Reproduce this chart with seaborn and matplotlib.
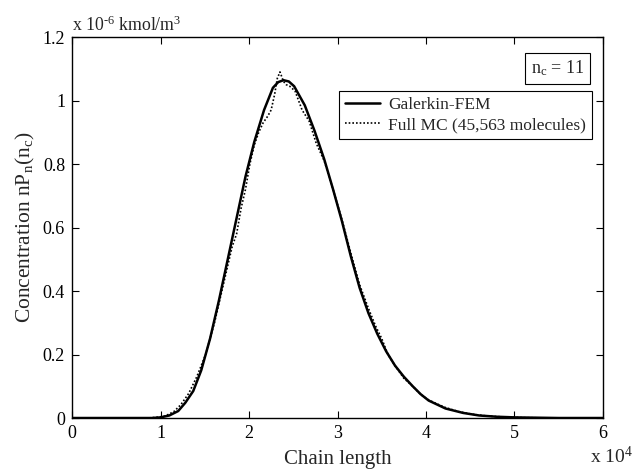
import matplotlib
matplotlib.use("Agg")
import matplotlib.pyplot as plt
import seaborn as sns
import pandas as pd

# ---- data (chain length in units of 1e4, concentration in units of 1e-6 kmol/m^3)
fem_x = [0.0, 0.9, 1.0, 1.1, 1.2, 1.28, 1.37, 1.46, 1.56, 1.66, 1.76, 1.86,
         1.96, 2.06, 2.17, 2.27, 2.33, 2.39, 2.45, 2.51, 2.63, 2.74, 2.85,
         2.95, 3.05, 3.15, 3.25, 3.35, 3.45, 3.55, 3.65, 3.75, 3.85, 3.94,
         4.03, 4.22, 4.42, 4.6, 4.8, 5.0, 5.5, 6.0]
fem_y = [0.0, 0.0, 0.002, 0.008, 0.022, 0.048, 0.085, 0.15, 0.25, 0.37, 0.50,
         0.63, 0.76, 0.87, 0.97, 1.04, 1.058, 1.064, 1.06, 1.045, 0.985, 0.905,
         0.815, 0.72, 0.62, 0.51, 0.41, 0.33, 0.265, 0.21, 0.165, 0.13, 0.10,
         0.075, 0.055, 0.03, 0.016, 0.008, 0.004, 0.002, 0.0, 0.0]

mc_x = [0.0, 0.85, 0.95, 1.05, 1.15, 1.23, 1.32, 1.41, 1.51, 1.61, 1.71, 1.81,
        1.86, 1.91, 1.96, 2.01, 2.06, 2.11, 2.16, 2.21, 2.25, 2.29, 2.32,
        2.35, 2.39, 2.42, 2.46, 2.52, 2.6, 2.68, 2.76, 2.85, 2.95, 3.05,
        3.15, 3.25, 3.35, 3.43, 3.5, 3.57, 3.65, 3.75, 3.85, 3.94, 4.03,
        4.12, 4.22, 4.37, 4.52, 4.7, 4.9, 5.1, 5.5, 6.0]
mc_y = [0.0, 0.0, 0.002, 0.006, 0.02, 0.042, 0.078, 0.13, 0.2, 0.3, 0.42, 0.54,
        0.58, 0.66, 0.72, 0.80, 0.86, 0.90, 0.93, 0.95, 0.97, 1.02, 1.07, 1.09,
        1.06, 1.05, 1.045, 1.03, 0.97, 0.935, 0.865, 0.81, 0.72, 0.625, 0.52,
        0.42, 0.345, 0.29, 0.25, 0.2, 0.165, 0.125, 0.10, 0.074, 0.057, 0.045,
        0.033, 0.02, 0.012, 0.006, 0.003, 0.001, 0.0, 0.0]

x_ticks = [0, 1, 2, 3, 4, 5, 6]
y_ticks = [0, 0.2, 0.4, 0.6, 0.8, 1.0, 1.2]
y_tick_labels = ["0", "0.2", "0.4", "0.6", "0.8", "1", "1.2"]

labels = ["Galerkin-FEM", "Full MC (45,563 molecules)"]

sns.set_theme(style="ticks")
plt.rcParams["font.family"] = ["Liberation Serif", "DejaVu Serif"]
plt.rcParams["mathtext.fontset"] = "custom"
plt.rcParams["mathtext.rm"] = "Liberation Serif"
plt.rcParams["mathtext.it"] = "Liberation Serif:italic"
plt.rcParams["xtick.direction"] = "in"
plt.rcParams["ytick.direction"] = "in"

fem = pd.DataFrame({"x": fem_x, "y": fem_y})
mc = pd.DataFrame({"x": mc_x, "y": mc_y})

fig = plt.figure(figsize=(6.35, 4.71), dpi=100)
ax = fig.add_axes([0.1134, 0.1125, 0.8362, 0.8089])

sns.lineplot(data=fem, x="x", y="y", ax=ax, color="black", linewidth=1.8,
             label=labels[0], sort=False)
sns.lineplot(data=mc, x="x", y="y", ax=ax, color="black", linewidth=1.2,
             linestyle=(0, (1, 1.2)), label=labels[1], sort=False)

ax.set_xlim(0, 6)
ax.set_ylim(0, 1.2)
ax.set_xticks(x_ticks)
ax.set_xticklabels([str(t) for t in x_ticks])
ax.set_yticks(y_ticks)
ax.set_yticklabels(y_tick_labels)
ax.tick_params(axis="both", which="both", top=True, right=True, length=5,
               width=0.8, labelsize=13, colors="black", pad=5)
for s in ax.spines.values():
    s.set_linewidth(1.0)
    s.set_color("black")

ax.set_xlabel("Chain length", fontsize=15, labelpad=5.5)
ax.set_ylabel(r"Concentration nP$_\mathrm{n}$(n$_\mathrm{c}$)", fontsize=15.5,
              labelpad=4)

ax.text(0.0, 1.006, "x 10$^{\u2010\\mathrm{6}}$ kmol/m$^\\mathrm{3}$",
        transform=ax.transAxes, fontsize=12.8, ha="left", va="bottom")
fig.text(0.997, 0.008, r"x 10$^\mathrm{4}$", fontsize=14, ha="right",
         va="bottom")

ax.text(0.964, 0.918, r"n$_\mathrm{c}$ = 11", transform=ax.transAxes,
        fontsize=13, ha="right", va="center",
        bbox=dict(boxstyle="square,pad=0.32", fc="white", ec="black", lw=0.8))

leg = ax.legend(loc="upper right", bbox_to_anchor=(0.979, 0.858), fontsize=12.5,
                frameon=True, fancybox=False, edgecolor="black", framealpha=1,
                handlelength=2.0, borderpad=0.32, labelspacing=0.25,
                handletextpad=0.5, borderaxespad=0)
leg.get_frame().set_linewidth(0.8)

fig.savefig("out.png", dpi=100)
